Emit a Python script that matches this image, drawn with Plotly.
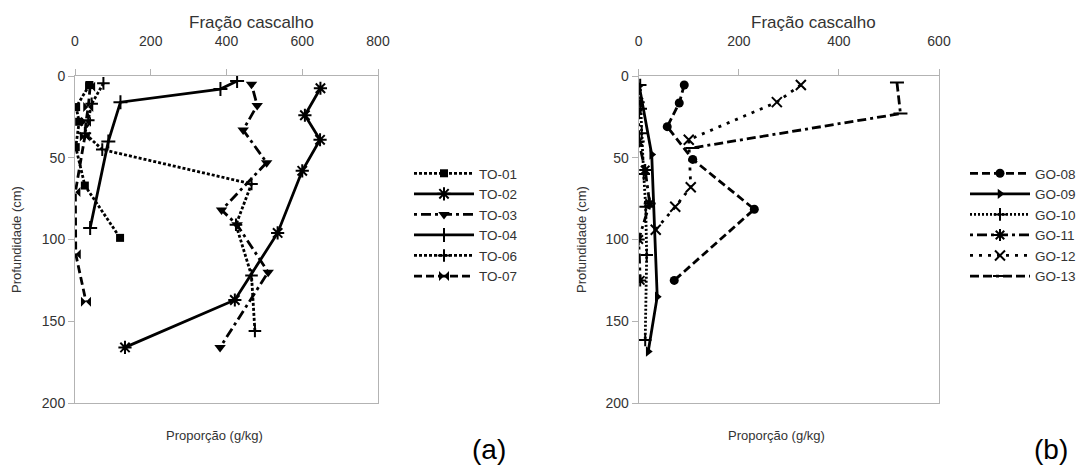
import plotly.graph_objects as go

# ---- Profile data: gravel fraction (g/kg) by depth (cm) ----
to_names = ["TO-01", "TO-02", "TO-03", "TO-04", "TO-06", "TO-07"]
to_depth = {
    "TO-01": [5.5, 19, 28, 43.5, 67, 99],
    "TO-02": [7.5, 24, 39, 58, 96, 137, 166],
    "TO-03": [5, 18, 33, 53, 82, 91, 120, 166],
    "TO-04": [3, 8, 16, 40, 93],
    "TO-06": [4.5, 17, 27, 35, 45, 66, 91, 122, 156],
    "TO-07": [6.5, 19, 28, 37, 71, 109, 138],
}
to_value = {
    "TO-01": [38, 3, 11, 2, 26, 119],
    "TO-02": [648, 607, 647, 600, 535, 422, 132],
    "TO-03": [466, 481, 444, 506, 387, 428, 510, 383],
    "TO-04": [428, 384, 120, 88, 40],
    "TO-06": [75, 44, 35, 26, 72, 466, 425, 466, 475],
    "TO-07": [40, 35, 29, 26, 1, 2, 29],
}

go_names = ["GO-08", "GO-09", "GO-10", "GO-11", "GO-12", "GO-13"]
go_depth = {
    "GO-08": [5.5, 16.5, 31, 51, 81.5, 125],
    "GO-09": [6, 48, 135, 168.5],
    "GO-10": [5.5, 20, 35, 60, 80, 109.5, 161.5],
    "GO-11": [16, 40, 57.5, 78, 100, 125],
    "GO-12": [5.5, 16, 39, 68, 80, 94],
    "GO-13": [4, 23, 44],
}
go_value = {
    "GO-08": [91, 81, 57, 108, 231, 71],
    "GO-09": [1, 26, 37, 19],
    "GO-10": [3, 4, 6, 10, 14, 16, 13],
    "GO-11": [0, 0, 13, 22, 0, 3],
    "GO-12": [324, 276, 100, 104, 73, 34],
    "GO-13": [516, 523, 107],
}

depth_ticks = [0, 50, 100, 150, 200]

# ---- line / marker styles per series ----
styles = {
    "TO-01": dict(dash="3px,2px", symbol="square", size=8, open=False),
    "TO-02": dict(dash="solid", symbol="asterisk-open", size=11, open=True),
    "TO-03": dict(dash="3px,4px,10px,4px", symbol="triangle-down", size=10, open=False),
    "TO-04": dict(dash="solid", symbol="cross-thin-open", size=10, open=True),
    "TO-06": dict(dash="3px,2px", symbol="cross-thin-open", size=9, open=True),
    "TO-07": dict(dash="8px,4px", symbol="bowtie", size=10, open=False),
    "GO-08": dict(dash="8px,4px", symbol="circle", size=9, open=False),
    "GO-09": dict(dash="solid", symbol="triangle-right", size=9, open=False),
    "GO-10": dict(dash="2px,2px", symbol="cross-thin-open", size=9, open=True),
    "GO-11": dict(dash="3px,4px,10px,4px", symbol="asterisk-open", size=10, open=True),
    "GO-12": dict(dash="3px,6px", symbol="x-thin-open", size=10, open=True),
    "GO-13": dict(dash="9px,4px,9px,4px,3px,4px", symbol="line-ew-open", size=10, open=True),
}

fig = go.Figure()


def add_series(name, xs, ys, xaxis, yaxis, legend):
    st = styles[name]
    marker = dict(symbol=st["symbol"], size=st["size"], color="black",
                  line=dict(color="black", width=2 if st["open"] else 0))
    fig.add_trace(go.Scatter(
        x=xs, y=ys, name=name, mode="lines+markers",
        line=dict(color="black", width=2.8, dash=st["dash"]),
        marker=marker, xaxis=xaxis, yaxis=yaxis, legend=legend,
    ))


for n in to_names:
    add_series(n, to_value[n], to_depth[n], "x", "y", "legend")
for n in go_names:
    add_series(n, go_value[n], go_depth[n], "x2", "y2", "legend2")

W, H = 1088, 468
txt = "#333333"
font_family = "Liberation Sans, Arial, sans-serif"

axis_common = dict(
    showline=True, linecolor="#b3b3b3", linewidth=1, mirror=True,
    showgrid=False, zeroline=False, ticks="outside", ticklen=6,
    tickcolor="#b3b3b3", tickfont=dict(size=14, color=txt, family=font_family),
    automargin=False,
)

y_top = 1 - 76 / H
y_bot = 1 - 403 / H

fig.update_layout(
    template="none",
    width=W, height=H,
    margin=dict(l=0, r=0, t=0, b=0, pad=0, autoexpand=False),
    paper_bgcolor="white", plot_bgcolor="white",
    font=dict(family=font_family, color=txt),
    xaxis=dict(domain=[75 / W, 378 / W], range=[0, 800], dtick=200,
               side="top", anchor="y", ticklabelstandoff=17, **axis_common),
    yaxis=dict(domain=[y_bot, y_top], range=[200, 0], tickvals=depth_ticks,
               anchor="x", **axis_common),
    xaxis2=dict(domain=[638.7 / W, 939 / W], range=[0, 600], dtick=200,
                side="top", anchor="y2", ticklabelstandoff=17, **axis_common),
    yaxis2=dict(domain=[y_bot, y_top], range=[200, 0], tickvals=depth_ticks,
                anchor="x2", **axis_common),
    legend=dict(x=409 / W, y=1 - 158 / H, xanchor="left", yanchor="top",
                font=dict(size=13.5, color=txt), bgcolor="rgba(0,0,0,0)",
                itemwidth=60, tracegroupgap=0),
    legend2=dict(x=965 / W, y=1 - 158 / H, xanchor="left", yanchor="top",
                 font=dict(size=13.5, color=txt), bgcolor="rgba(0,0,0,0)",
                 itemwidth=60, tracegroupgap=0),
    showlegend=True,
)

annotations = [
    dict(text="Fração cascalho", x=251 / W, y=1 - 22 / H, font=dict(size=17)),
    dict(text="Fração cascalho", x=813 / W, y=1 - 22 / H, font=dict(size=17)),
    dict(text="Proporção (g/kg)", x=214 / W, y=1 - 435 / H, font=dict(size=13)),
    dict(text="Proporção (g/kg)", x=776 / W, y=1 - 435 / H, font=dict(size=13)),
    dict(text="Profundidade (cm)", x=17 / W, y=1 - 240 / H, font=dict(size=13),
         textangle=-90),
    dict(text="Profundidade (cm)", x=582 / W, y=1 - 240 / H, font=dict(size=13),
         textangle=-90),
    dict(text="(a)", x=489 / W, y=1 - 449 / H, font=dict(size=28, color="black")),
    dict(text="(b)", x=1051 / W, y=1 - 449 / H, font=dict(size=28, color="black")),
]
for a in annotations:
    fig.add_annotation(xref="paper", yref="paper", showarrow=False,
                       xanchor="center", yanchor="middle", **a)

fig.write_html("out.html")
